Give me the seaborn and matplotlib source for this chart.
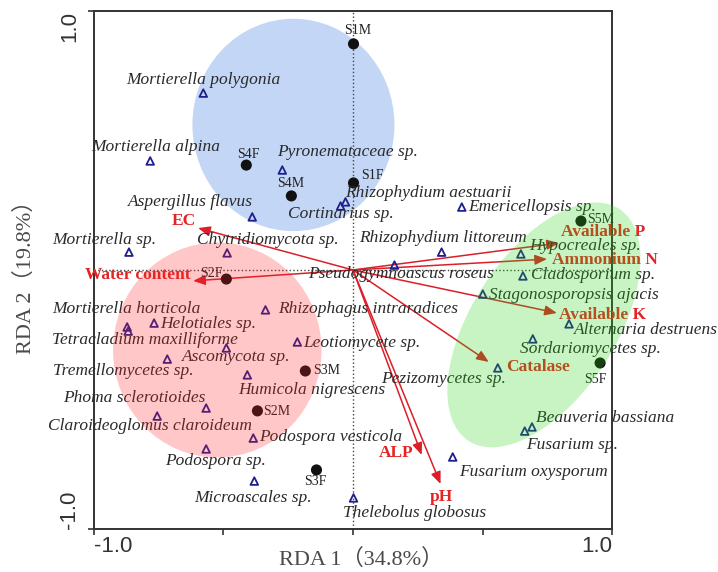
import pandas as pd
import matplotlib.pyplot as plt
import seaborn as sns
from matplotlib.patches import Ellipse

# species scores (RDA 1, RDA 2)
species = ['Mortierella polygonia', 'Mortierella alpina', 'Pyronemataceae sp.', 'Aspergillus flavus',
           'Cortinarius sp.', 'Rhizophydium aestuarii', 'Mortierella sp.', 'Chytridiomycota sp.',
           'Emericellopsis sp.', 'Rhizophydium littoreum', 'Hypocreales sp.', 'Pseudogymnoascus roseus',
           'Cladosporium sp.', 'Stagonosporopsis ajacis', 'Alternaria destruens', 'Sordariomycetes sp.',
           'Pezizomycetes sp.', 'Beauveria bassiana', 'Fusarium sp.', 'Fusarium oxysporum',
           'Thelebolus globosus', 'Microascales sp.', 'Podospora sp.', 'Podospora vesticola',
           'Claroideoglomus claroideum', 'Phoma sclerotioides', 'Humicola nigrescens', 'Tremellomycetes sp.',
           'Ascomycota sp.', 'Mortierella horticola', 'Tetracladium maxilliforme', 'Helotiales sp.',
           'Rhizophagus intraradices', 'Leotiomycete sp.']
sp_x = [-0.578, -0.783, -0.273, -0.389, -0.048, -0.029, -0.865, -0.486,
        0.420, 0.342, 0.648, 0.160, 0.656, 0.501, 0.834, 0.694,
        0.559, 0.691, 0.663, 0.385, 0.002, -0.381, -0.567, -0.385,
        -0.756, -0.567, -0.408, -0.717, -0.489, -0.872, -0.868, -0.768,
        -0.338, -0.215]
sp_y = [0.683, 0.421, 0.386, 0.205, 0.247, 0.263, 0.069, 0.066,
        0.243, 0.069, 0.062, 0.019, -0.023, -0.093, -0.208, -0.266,
        -0.378, -0.606, -0.622, -0.722, -0.880, -0.815, -0.691, -0.649,
        -0.564, -0.533, -0.405, -0.344, -0.301, -0.220, -0.236, -0.205,
        -0.154, -0.278]

# sample scores
samples = ['S1M', 'S1F', 'S4F', 'S4M', 'S2F', 'S3M', 'S2M', 'S3F', 'S5M', 'S5F']
smp_x = [0.002, 0.002, -0.412, -0.238, -0.489, -0.184, -0.369, -0.141, 0.880, 0.954]
smp_y = [0.873, 0.336, 0.405, 0.286, -0.035, -0.390, -0.544, -0.772, 0.189, -0.359]

# environmental factors (arrow tips)
env = ['EC', 'Water content', 'Available P', 'Ammonium N', 'Available K', 'Catalase', 'ALP', 'pH']
env_x = [-0.598, -0.617, 0.795, 0.749, 0.787, 0.524, 0.265, 0.338]
env_y = [0.162, -0.042, 0.104, 0.042, -0.166, -0.355, -0.714, -0.826]

# label placement: (dx, dy in pixels, ha)
sp_lab = [(0, 13, 'center'), (6, 14, 'center'), (-5, 18, 'left'), (1, 15, 'right'),
          (0, -8, 'center'), (0, 9, 'left'), (-25, 12, 'center'), (-30, 13, 'left'),
          (6, 0, 'left'), (1, 14, 'center'), (8, 8, 'left'), (7, -9, 'center'),
          (8, 1, 'left'), (6, -1, 'left'), (5, -6, 'left'), (-13, -10, 'left'),
          (8, -11, 'right'), (4, 9, 'left'), (1, -14, 'left'), (6, -15, 'left'),
          (-11, -15, 'left'), (-1, -17, 'center'), (9, -12, 'center'), (6, 1, 'left'),
          (-7, -10, 'center'), (-1, 10, 'right'), (-9, -15, 'left'), (-44, -12, 'center'),
          (10, -9, 'center'), (-1, 18, 'center'), (17, -9, 'center'), (6, -1, 'left'),
          (13, 1, 'left'), (6, -1, 'left')]
smp_lab = [(4, 13, 'center'), (8, 7, 'left'), (2, 11, 'center'), (-1, 12, 'center'),
           (-4, 6, 'right'), (8, 0, 'left'), (6, -1, 'left'), (-1, -12, 'center'),
           (6, 2, 'left'), (-5, -17, 'center')]
env_lab = [(-2, 7, 'right'), (-3, 6, 'right'), (2, 11, 'left'), (5, -1, 'left'),
           (2, -2, 'left'), (17, -5, 'left'), (-8, 2, 'right'), (1, -13, 'center')]

sp_df = pd.DataFrame({'name': species, 'x': sp_x, 'y': sp_y})
smp_df = pd.DataFrame({'name': samples, 'x': smp_x, 'y': smp_y})

sns.set_theme(style='white')
plt.rcParams['font.family'] = ['Liberation Serif', 'Noto Sans CJK SC']

fig = plt.figure(figsize=(7.18, 5.72), dpi=100)
ax = fig.add_axes([0.1309, 0.0752, 0.7215, 0.9056])
ax.set_xlim(-1, 1)
ax.set_ylim(-1, 1)

# group ellipses
ax.add_patch(Ellipse((-0.23, 0.56), 0.78, 0.82, facecolor='#c3d6f6', edgecolor='none', zorder=0.5))
ax.add_patch(Ellipse((-0.524, -0.309), 0.805, 0.83, facecolor='#ff2323', alpha=0.25,
                     edgecolor='none', zorder=10))
ax.add_patch(Ellipse((0.737, -0.212), 1.068, 0.556, angle=57, facecolor='#23d70f', alpha=0.25,
                     edgecolor='none', zorder=10, clip_on=False))

ax.axvline(0, color='#444444', ls=':', lw=1, zorder=1)
ax.axhline(0, color='#444444', ls=':', lw=1, zorder=1)

# arrows
for name, x, y, (dx, dy, ha) in zip(env, env_x, env_y, env_lab):
    ax.annotate('', xy=(x, y), xytext=(0, 0),
                arrowprops=dict(arrowstyle='-|>,head_length=0.6,head_width=0.25', color='#dc1e28',
                                lw=1.1, mutation_scale=12, shrinkA=0, shrinkB=0), zorder=3)
    ax.annotate(name, xy=(x, y), xytext=(dx, dy), textcoords='offset pixels', ha=ha, va='center',
                fontsize=12.5, fontweight='bold', color='#e42424', zorder=4)

sns.scatterplot(data=sp_df, x='x', y='y', marker='^', s=30, facecolor='none',
                edgecolor='#1e1e8c', linewidth=1.3, ax=ax, zorder=5)
sns.scatterplot(data=smp_df, x='x', y='y', marker='o', s=64, color='#111111',
                edgecolor='none', ax=ax, zorder=5)

for name, x, y, (dx, dy, ha) in zip(species, sp_x, sp_y, sp_lab):
    ax.annotate(name, xy=(x, y), xytext=(dx, dy), textcoords='offset pixels', ha=ha, va='center',
                fontsize=12.5, style='italic', color='#2a2a2a', zorder=6)
for name, x, y, (dx, dy, ha) in zip(samples, smp_x, smp_y, smp_lab):
    ax.annotate(name, xy=(x, y), xytext=(dx, dy), textcoords='offset pixels', ha=ha, va='center',
                fontsize=10, color='#222222', zorder=6)

# axes styling
for sp in ax.spines.values():
    sp.set_color('#333333')
    sp.set_linewidth(1.4)
ax.set_xticks([-1, -0.5, 0, 0.5, 1])
ax.set_xticklabels(['-1.0', '', '', '', '1.0'])
ax.set_yticks([-1, 1])
ax.set_yticklabels(['-1.0', '1.0'])
ax.tick_params(axis='both', direction='out', length=4, width=1.2, color='#333333',
               labelsize=16, labelcolor='#333333', bottom=True, left=True)
ax.tick_params(axis='x', pad=1)
ax.tick_params(axis='y', pad=6)
for lab in ax.get_xticklabels() + ax.get_yticklabels():
    lab.set_family(['Liberation Sans'])
xl = ax.get_xticklabels()
xl[0].set_ha('left')
xl[-1].set_ha('right')
yl = ax.get_yticklabels()
for lab in yl:
    lab.set_rotation(90)
yl[0].set_va('bottom')
yl[1].set_va('top')

ax.set_xlabel('RDA 1（34.8%）', fontsize=16, color='#4a4a4a')
ax.xaxis.set_label_coords(0.515, -0.038)
ax.set_ylabel('RDA 2（19.8%）', fontsize=16, color='#4a4a4a')
ax.yaxis.set_label_coords(-0.112, 0.496)

fig.savefig('out.png', dpi=100)
